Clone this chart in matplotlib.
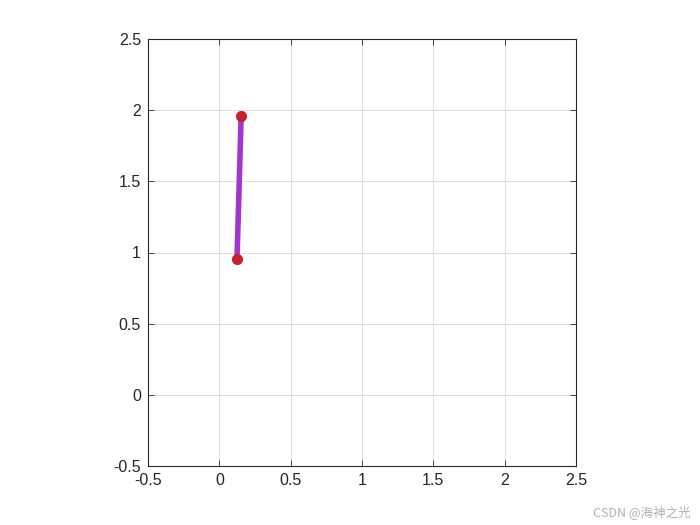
import matplotlib.pyplot as plt

# Link endpoints
link_x = [0.124, 0.153]
link_y = [0.955, 1.960]

ticks = [-0.5, 0, 0.5, 1, 1.5, 2, 2.5]
tick_labels = ["-0.5", "0", "0.5", "1", "1.5", "2", "2.5"]

plt.rcParams["font.family"] = ["Liberation Sans", "DejaVu Sans"]

fig = plt.figure(figsize=(7, 5.25), dpi=100)
ax = fig.add_axes([148 / 700, 59 / 525, 428 / 700, 427 / 525])

ax.plot(link_x, link_y, color="#a035d0", linewidth=4, solid_capstyle="butt", zorder=3)
ax.plot(link_x, link_y, "o", color="#c8202e", markersize=7, zorder=4)

ax.set_xlim(-0.5, 2.5)
ax.set_ylim(-0.5, 2.5)
ax.set_xticks(ticks)
ax.set_xticklabels(tick_labels)
ax.set_yticks(ticks)
ax.set_yticklabels(tick_labels)
ax.grid(True, color="#dcdcdc", linewidth=0.7)
ax.set_axisbelow(True)
ax.tick_params(direction="in", top=True, right=True, length=4, width=0.6,
               labelsize=11.5, colors="#262626", pad=5)
for s in ax.spines.values():
    s.set_linewidth(0.8)
    s.set_color("#262626")

fig.text(0.986, 0.025, "CSDN @海神之光", ha="right", va="center", fontsize=9,
         color="#b0b0b0", family=["Noto Sans CJK SC", "DejaVu Sans"])

fig.savefig("out.png", dpi=100)
